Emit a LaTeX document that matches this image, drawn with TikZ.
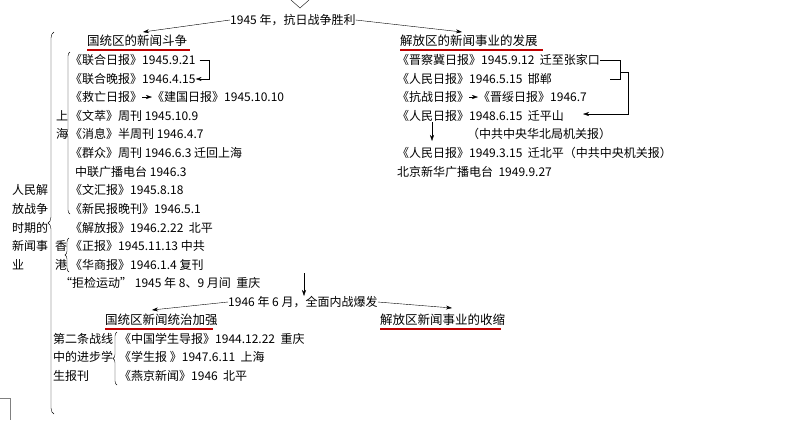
\documentclass[tikz,border=0pt]{standalone}
\usepackage{fontspec}
\setmainfont{Liberation Serif}
\newfontfamily\cjk{Noto Sans CJK SC}
\usetikzlibrary{decorations.pathreplacing,arrows.meta}
\begin{document}
\begin{tikzpicture}[x=1pt,y=-1pt,
  t/.style={anchor=west,inner sep=0pt,font=\cjk\fontsize{12}{14}\selectfont},
  hd/.style={t,font=\cjk\fontsize{12.5}{14}\selectfont},
  ar/.style={-{Stealth[length=6pt,width=4pt]},thin},
  ln/.style={thin},
  ul/.style={red!75!black,line width=1.4pt},
  br/.style={decorate,decoration={brace,amplitude=4pt,mirror},thin}]
\useasboundingbox (0,0) rectangle (809,445);
\draw[ln] (291,0) -- (300,8) -- (309,0);
\node[t] (top) at (230,20) {1945 年，抗日战争胜利};
\node[hd] (h1) at (87,41) {国统区的新闻斗争};
\node[hd] (h2) at (400,41) {解放区的新闻事业的发展};
\draw[ul] (h1.south west)++(0,3) -- ++(103,0);
\draw[ul] (h2.south west)++(0,3) -- ++(143,0);
\draw[ar] (top.west) -- (143,32);
\draw[ar] (top.east) -- (462,32);
% left column
\node[t] (a1) at (70,60) {《联合日报》1945.9.21};
\node[t] (a2) at (70,79) {《联合晚报》1946.4.15};
\node[t] (a3) at (70,97) {《救亡日报》};
\node[t] (a3b) at (152,97) {《建国日报》1945.10.10};
\node[t] (a4) at (70,116) {《文萃》周刊 1945.10.9};
\node[t] (a5) at (70,134) {《消息》半周刊 1946.4.7};
\node[t] (a6) at (70,153) {《群众》周刊 1946.6.3 迁回上海};
\node[t] (a7) at (75,172) {中联广播电台 1946.3};
\node[t] (a8) at (70,190) {《文汇报》1945.8.18};
\node[t] (a9) at (70,209) {《新民报晚刊》1946.5.1};
\node[t] (a10) at (70,228) {《解放报》1946.2.22\ \ 北平};
\node[t] (a11) at (70,246) {《正报》1945.11.13 中共};
\node[t] (a12) at (70,265) {《华商报》1946.1.4 复刊};
\node[t] (a13) at (60,283) {“拒检运动” 1945 年 8、9 月间\ \ 重庆};
\coordinate (c1) at (209,60);
\draw[ln] (a1.east)++(4,0) -- (c1);
\draw[ar] (c1) -- (209,79) -- (a2.east);
\draw[ar] (a3.east) -- (a3b.west);
\node[t] (sh1) at (56,116) {上};
\node[t] (sh2) at (56,134) {海};
\draw[br] (70,52) -- (70,214);
\node[t] (hk1) at (55,246) {香};
\node[t] (hk2) at (55,265) {港};
\draw[br] (69,238) -- (69,272);
\node[t] (m1) at (12,190) {人民解};
\node[t] (m2) at (12,209) {放战争};
\node[t] (m3) at (12,228) {时期的};
\node[t] (m4) at (12,246) {新闻事};
\node[t] (m5) at (12,265) {业};
\draw[decorate,decoration={brace,amplitude=6pt,mirror},thin] (54,32) -- (54,414);
% right column
\node[t] (b1) at (397,60) {《晋察冀日报》1945.9.12\ \ 迁至张家口};
\node[t] (b2) at (397,79) {《人民日报》1946.5.15\ \ 邯郸};
\node[t] (b3) at (397,97) {《抗战日报》};
\node[t] (b3b) at (478,97) {《晋绥日报》1946.7};
\node[t] (b4) at (397,116) {《人民日报》1948.6.15\ \ 迁平山};
\node[t] (b5) at (467,134) {（中共中央华北局机关报）};
\node[t] (b6) at (397,153) {《人民日报》1949.3.15\ \ 迁北平（中共中央机关报）};
\node[t] (b7) at (397,172) {北京新华广播电台\ \ 1949.9.27};
\coordinate (d1) at (620,60);
\coordinate (d2) at (620,79);
\coordinate (d3) at (628,72);
\draw[ln] (b1.east) -- (d1) -- (d2) -- (610,79);
\draw[ar] (620,72) -- (d3) -- (628,114) -- (583,114);
\draw[ar] (b3.east) -- (b3b.west);
\draw[ar] (432,122) -- (432,141);
% middle
\node[t] (mid) at (228,302) {1946 年 6 月，全面内战爆发};
\coordinate (dn) at (304,273);
\draw[ar] (dn) -- (304,296);
\node[hd] (h3) at (105,320) {国统区新闻统治加强};
\node[hd] (h4) at (380,320) {解放区新闻事业的收缩};
\draw[ul] (h3.south west)++(0,3) -- ++(108,0);
\draw[ul] (h4.south west)++(0,3) -- ++(121,0);
\draw[ar] (mid.west) -- (152,310);
\draw[ar] (mid.east) -- (452,308);
\node[t] (s1) at (53,339) {第二条战线};
\node[t] (s2) at (53,357) {中的进步学};
\node[t] (s3) at (53,376) {生报刊};
\draw[br] (117,332) -- (117,385);
\node[t] (p1) at (119,339) {《中国学生导报》1944.12.22\ \ 重庆};
\node[t] (p2) at (119,357) {《学生报 》1947.6.11\ \ 上海};
\node[t] (p3) at (119,376) {《燕京新闻》1946\ \ 北平};
\draw[ln,gray] (0,398) -- (10,398) -- (10,420);
\end{tikzpicture}
\end{document}
